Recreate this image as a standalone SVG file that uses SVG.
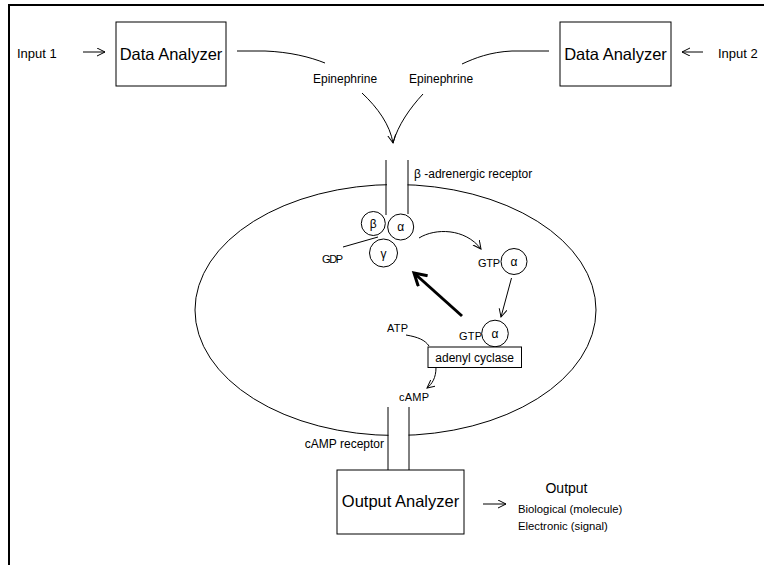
<svg xmlns="http://www.w3.org/2000/svg" width="764" height="565" viewBox="0 0 764 565">
<defs>
<style>
text{font-family:"Liberation Sans",Arial,sans-serif;fill:#000}
.ln{fill:none;stroke:#000;stroke-width:1}
.box{fill:#fff;stroke:#000;stroke-width:1}
.big{font-size:16.5px}
.inp{font-size:13px}
.lab{font-size:12px}
.sm{font-size:11px}
.gk{font-size:12px}
</style>
<marker id="ah" markerUnits="userSpaceOnUse" markerWidth="12" markerHeight="12" refX="8" refY="4" orient="auto">
<path d="M0,0 L8,4 L0,8" fill="none" stroke="#000" stroke-width="1"/>
</marker>
<marker id="ahb" markerUnits="userSpaceOnUse" markerWidth="20" markerHeight="20" refX="13" refY="8" orient="auto">
<path d="M1,1 L13,8 L1,15" fill="none" stroke="#000" stroke-width="3"/>
</marker>
</defs>
<rect width="764" height="565" fill="#fff"/>
<path d="M9,565 L9,5 L764,5" fill="none" stroke="#000" stroke-width="2"/>

<g id="cell">
<ellipse cx="395.5" cy="310" rx="200.5" ry="125.5" class="ln"/>
<rect x="387" y="180" width="20.5" height="10" fill="#fff"/>
<rect x="388.5" y="430" width="20" height="10" fill="#fff"/>
</g>

<g id="input1"><text x="17" y="58" class="inp">Input 1</text></g>
<g id="input2"><text x="718" y="58" class="inp">Input 2</text></g>

<g id="data-analyzer-1">
<rect x="116" y="22" width="110" height="64" class="box"/>
<text x="171" y="59.5" class="big" text-anchor="middle">Data Analyzer</text>
</g>
<g id="data-analyzer-2">
<rect x="560" y="22" width="111" height="64" class="box"/>
<text x="615.5" y="59.5" class="big" text-anchor="middle">Data Analyzer</text>
</g>

<g id="epinephrine-1"><text x="313" y="83" class="lab">Epinephrine</text></g>
<g id="epinephrine-2"><text x="409" y="83" class="lab">Epinephrine</text></g>

<g id="beta-receptor">
<line x1="386" y1="160" x2="386" y2="215" class="ln"/>
<line x1="408" y1="160" x2="408" y2="214" class="ln"/>
<text x="414" y="178" class="lab">β -adrenergic receptor</text>
</g>

<g id="g-protein">
<circle cx="373.3" cy="223.5" r="12" class="box"/>
<text x="373.3" y="228" class="gk" text-anchor="middle">β</text>
<circle cx="400.7" cy="227" r="13" class="box"/>
<text x="400.7" y="231" class="gk" text-anchor="middle">α</text>
<circle cx="383.5" cy="253" r="14" class="box"/>
<text x="383.5" y="257.5" class="gk" text-anchor="middle">γ</text>
</g>

<g id="gdp"><text x="322" y="263" class="sm" textLength="21">GDP</text></g>

<g id="gtp-alpha-1">
<text x="478" y="266.5" class="sm" textLength="22">GTP</text>
<circle cx="514" cy="261.5" r="13" class="box"/>
<text x="514" y="265.5" class="gk" text-anchor="middle">α</text>
</g>

<g id="gtp-alpha-2">
<text x="459" y="340" class="sm" textLength="23">GTP</text>
<circle cx="495" cy="333.5" r="13.3" class="box"/>
<text x="495" y="337.5" class="gk" text-anchor="middle">α</text>
</g>

<g id="adenyl-cyclase">
<rect x="428" y="347" width="93.5" height="20.5" class="box"/>
<text x="474.7" y="361.5" class="lab" text-anchor="middle">adenyl cyclase</text>
</g>

<g id="atp"><text x="387" y="331.5" class="sm" textLength="21">ATP</text></g>
<g id="camp"><text x="399" y="400.5" class="sm" textLength="30">cAMP</text></g>

<g id="camp-receptor">
<line x1="388" y1="407" x2="388" y2="470" class="ln"/>
<line x1="409" y1="407" x2="409" y2="470" class="ln"/>
<text x="384" y="447.5" class="lab" text-anchor="end">cAMP receptor</text>
</g>

<g id="output-analyzer">
<rect x="337" y="470" width="127" height="64" class="box"/>
<text x="400.5" y="506.5" class="big" text-anchor="middle">Output Analyzer</text>
</g>

<g id="output">
<text x="566.5" y="493" font-size="14" text-anchor="middle">Output</text>
<text x="518" y="513" font-size="11.3px">Biological (molecule)</text>
<text x="518" y="530" font-size="11.3px">Electronic (signal)</text>
</g>

<g id="connectors">
<path d="M83,52 L105,52" class="ln" marker-end="url(#ah)"/>
<path d="M703,52 L682,52" class="ln" marker-end="url(#ah)"/>
<path d="M237,51 L265,51 C290,52 310,57 325,63" class="ln"/>
<path d="M549,51 L512,51 C490,52 475,58 462,64" class="ln"/>
<path d="M362,93 C378,108 390,125 393,143" class="ln" marker-end="url(#ah)"/>
<path d="M423,94 C410,108 398,125 393,143" class="ln"/>
<path d="M343,247 L378,237" class="ln"/>
<path d="M419,238 C435,228 465,228 481,249" class="ln" marker-end="url(#ah)"/>
<path d="M511.5,278 L501,317" class="ln" marker-end="url(#ah)"/>
<path d="M462,316 L414,273" fill="none" stroke="#000" stroke-width="3" marker-end="url(#ahb)"/>
<path d="M406,335 C418,337 425,340 429,346" class="ln"/>
<path d="M436,367.5 C436,378 432,384 427,388" class="ln" marker-end="url(#ah)"/>
<path d="M483,504 L506,504" class="ln" marker-end="url(#ah)"/>
</g>
</svg>
